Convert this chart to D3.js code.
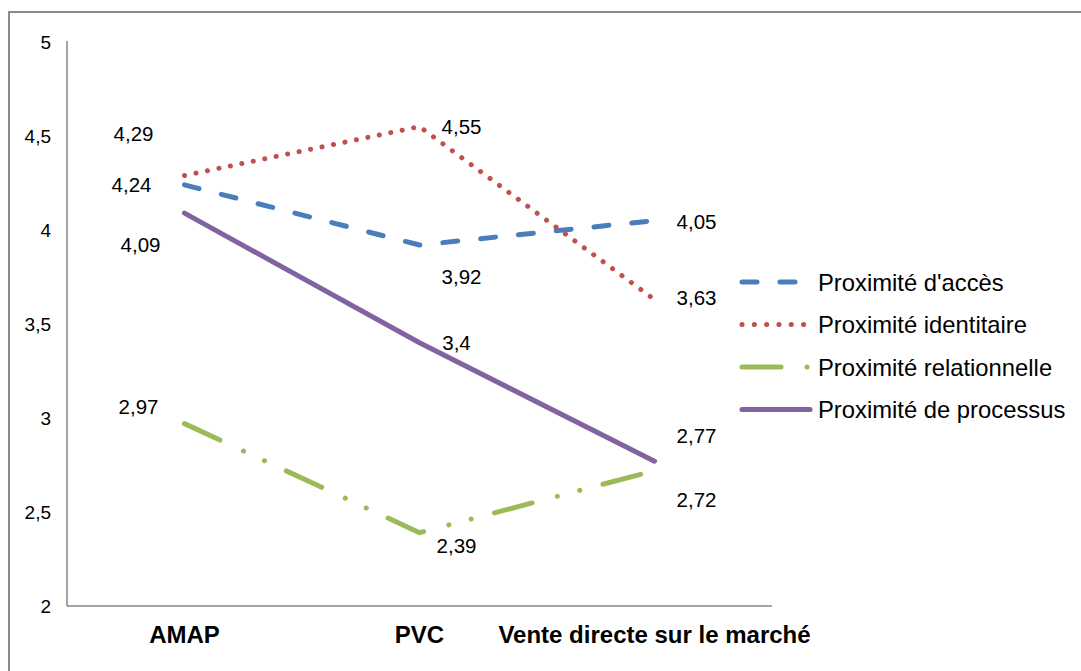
<!DOCTYPE html>
<html>
<head>
<meta charset="utf-8">
<script src="https://cdn.jsdelivr.net/npm/d3@7"></script>
<style>
  body { margin: 0; background: #fff; }
  text { font-family: "Liberation Sans", Arial, sans-serif; fill: #000; }
</style>
</head>
<body>
<script>
// data
var categories = ["AMAP", "PVC", "Vente directe sur le marché"];
var seriesNames = ["Proximité d'accès", "Proximité identitaire", "Proximité relationnelle", "Proximité de processus"];
var acces = [4.24, 3.92, 4.05];
var identitaire = [4.29, 4.55, 3.63];
var relationnelle = [2.97, 2.39, 2.72];
var processus = [4.09, 3.4, 2.77];
var yTicks = [2, 2.5, 3, 3.5, 4, 4.5, 5];

// label offsets (px) from each point, as placed in the original
var labelOffsets = [
  [[-53, 0], [42, 32], [42, 1]],
  [[-51, -42], [42, 0], [42, -2]],
  [[-46, -17], [37, 13], [42, 29]],
  [[-44, 32], [37, 0], [42, -26]]
];

var colors = ["#4A7EBB", "#C0504D", "#9BBB59", "#8064A2"];
var dashes = ["15,23", "0.1,11.6", "39,26,0.1,23,0.1,24", null];

var width = 1081, height = 671;
var margin = {top: 42, left: 67, bottom: 65, right: 309};

var svg = d3.select("body").append("svg")
    .attr("width", width)
    .attr("height", height);

// outer frame (runs off right and bottom)
svg.append("rect")
    .attr("x", 9).attr("y", 12)
    .attr("width", 1100).attr("height", 700)
    .attr("fill", "none")
    .attr("stroke", "#8a8a8a")
    .attr("stroke-width", 2);

var x = d3.scaleBand()
    .domain(categories)
    .range([margin.left, width - margin.right]);

var y = d3.scaleLinear()
    .domain([2, 5])
    .range([height - margin.bottom, margin.top]);

var fmt = function(v) { return String(v).replace(".", ","); };

// axes
svg.append("line")
    .attr("x1", margin.left).attr("x2", margin.left)
    .attr("y1", y(5) - 1).attr("y2", y(2))
    .attr("stroke", "#868686").attr("stroke-width", 1.5);

svg.append("line")
    .attr("x1", margin.left).attr("x2", width - margin.right)
    .attr("y1", y(2)).attr("y2", y(2))
    .attr("stroke", "#868686").attr("stroke-width", 1.5);

svg.selectAll(".ytick")
    .data(yTicks)
    .enter().append("text")
    .attr("class", "ytick")
    .attr("x", 51)
    .attr("y", function(d) { return y(d); })
    .attr("dy", ".36em")
    .attr("text-anchor", "end")
    .style("font-size", "19px")
    .text(fmt);

svg.selectAll(".xlab")
    .data(categories)
    .enter().append("text")
    .attr("class", "xlab")
    .attr("x", function(d) { return x(d) + x.bandwidth() / 2; })
    .attr("y", 643)
    .attr("text-anchor", "middle")
    .style("font-size", "24px")
    .style("font-weight", "bold")
    .text(function(d) { return d; });

var series = [acces, identitaire, relationnelle, processus];

var line = d3.line()
    .x(function(d, i) { return x(categories[i]) + x.bandwidth() / 2; })
    .y(function(d) { return y(d); });

svg.selectAll(".serie")
    .data(series)
    .enter().append("path")
    .attr("class", "serie")
    .attr("d", line)
    .attr("fill", "none")
    .attr("stroke", function(d, i) { return colors[i]; })
    .attr("stroke-width", 5)
    .attr("stroke-linecap", "round")
    .attr("stroke-linejoin", "round")
    .attr("stroke-dasharray", function(d, i) { return dashes[i]; });

// data labels
series.forEach(function(s, si) {
  svg.selectAll(".lab" + si)
      .data(s)
      .enter().append("text")
      .attr("class", "lab" + si)
      .attr("x", function(d, i) { return x(categories[i]) + x.bandwidth() / 2 + labelOffsets[si][i][0]; })
      .attr("y", function(d, i) { return y(d) + labelOffsets[si][i][1]; })
      .attr("dy", ".36em")
      .attr("text-anchor", "middle")
      .style("font-size", "20.5px")
      .text(fmt);
});

// legend
var legend = svg.selectAll(".legend")
    .data(seriesNames)
    .enter().append("g")
    .attr("class", "legend")
    .attr("transform", function(d, i) { return "translate(742," + (282 + i * 42.5) + ")"; });

legend.append("line")
    .attr("x1", 0).attr("x2", 68)
    .attr("stroke", function(d, i) { return colors[i]; })
    .attr("stroke-width", 5)
    .attr("stroke-linecap", "round")
    .attr("stroke-dasharray", function(d, i) {
      return i === 0 ? "15,23" : i === 1 ? "0.1,12.2" : dashes[i];
    });

legend.append("text")
    .attr("x", 76)
    .attr("dy", ".36em")
    .style("font-size", "23.8px")
    .text(function(d) { return d; });
</script>
</body>
</html>
